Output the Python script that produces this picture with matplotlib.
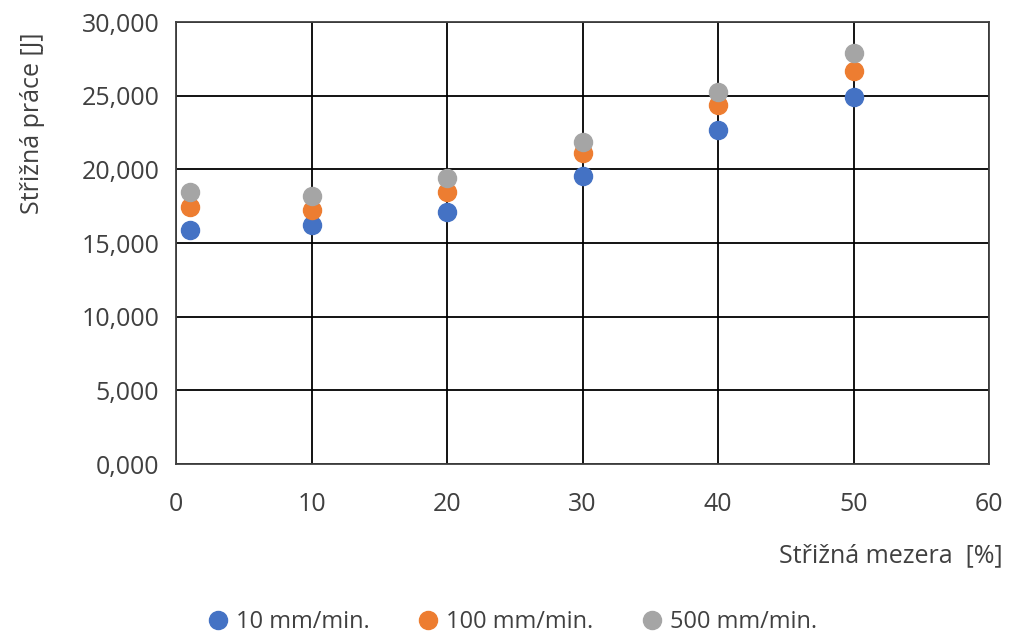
import matplotlib.pyplot as plt
import matplotlib.ticker as mticker

# dati
mezera = [1, 10, 20, 30, 40, 50]
prace_10 = [15.90, 16.20, 17.13, 19.57, 22.69, 24.92]
prace_100 = [17.47, 17.27, 18.49, 21.13, 24.38, 26.68]
prace_500 = [18.49, 18.22, 19.44, 21.87, 25.26, 27.90]
serie = ['10 mm/min.', '100 mm/min.', '500 mm/min.']
colori = ['#4472C4', '#ED7D31', '#A5A5A5']

plt.rcParams['font.family'] = ['Open Sans', 'DejaVu Sans']

fig = plt.figure(figsize=(10.15, 6.36), dpi=100)
ax = fig.add_axes([0.1734, 0.2704, 0.801, 0.695])

for y, nome, c in zip([prace_10, prace_100, prace_500], serie, colori):
    ax.plot(mezera, y, 'o', color=c, markersize=13, label=nome, zorder=3)

ax.set_xlim(0, 60)
ax.set_ylim(0, 30)
ax.set_xticks(range(0, 61, 10))
ax.set_yticks(range(0, 31, 5))
# virgola decimale, tre cifre
ax.yaxis.set_major_formatter(mticker.FuncFormatter(lambda v, p: '{:.3f}'.format(v).replace('.', ',')))
ax.grid(True, color='black', linewidth=1.3)
for s in ax.spines.values():
    s.set_color('#404040')
    s.set_linewidth(1.3)
ax.tick_params(length=0, labelsize=18, colors='#404040')
ax.tick_params(axis='y', pad=12)
ax.tick_params(axis='x', pad=20)

fig.text(0.988, 0.126, 'Střižná mezera  [%]', ha='right', va='center',
         fontsize=18, color='#404040')
fig.text(0.032, 0.806, 'Střižná práce [J]', ha='center', va='center',
         rotation=90, fontsize=18, color='#404040')

fig.legend(loc='center', bbox_to_anchor=(0.504, 0.022), ncol=3,
           frameon=False, fontsize=17, handlelength=1.0, handletextpad=0.25,
           columnspacing=2.0, labelcolor='#404040')

fig.savefig('out.png')
